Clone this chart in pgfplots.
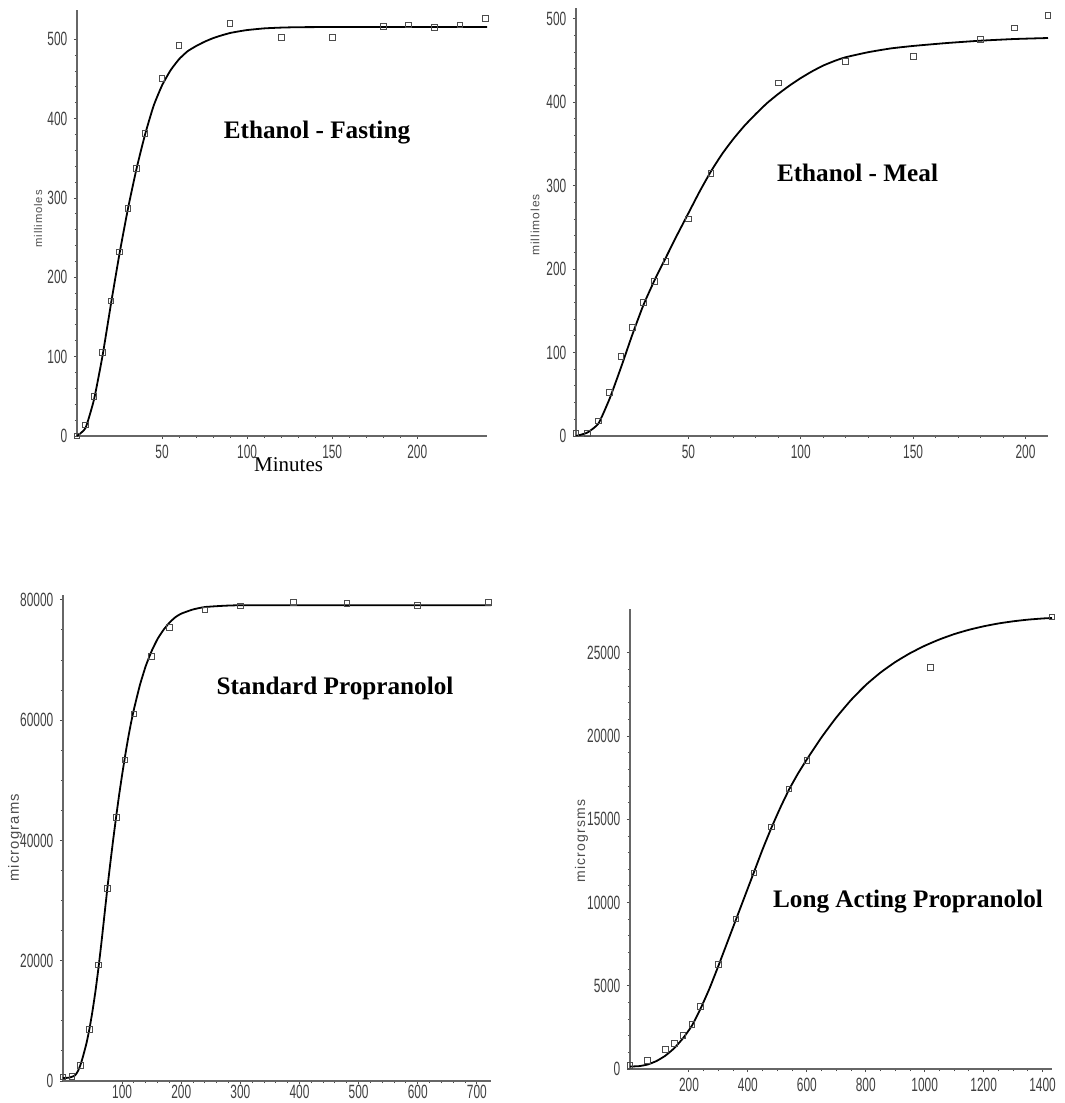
\documentclass[border=0pt]{standalone}
\usepackage{pgfplots}
\pgfplotsset{compat=1.18}
\usepackage{fontspec}
\setmainfont{Liberation Serif}
\newfontfamily\ticksans{Liberation Sans}[FakeStretch=0.62]
\newfontfamily\labsans{Liberation Sans}[LetterSpace=8]

\pgfplotsset{
  myax/.style={
    scale only axis,
    axis x line=bottom, axis y line=left,
    axis line style={-, draw=black!60, line width=0.75pt},
    tick align=outside,
    major tick length=1.6pt, minor tick length=1.1pt,
    every tick/.style={black!70, line width=0.45pt},
    tick label style={font=\ticksans\fontsize{9.6}{9.6}\selectfont, text=black!75},
    /pgf/number format/assume math mode=true,
    /pgf/number format/set thousands separator={},
    scaled ticks=false,
    xticklabel style={yshift=0.5pt},
    yticklabel style={xshift=0.3pt},
    clip=false,
    xmin=0, ymin=0,
  },
  fit/.style={black, line width=0.9pt, no marks, smooth, tension=0.3},
  obs/.style={only marks, mark=square, mark size=1.4pt, mark options={draw=black!70, line width=0.45pt, fill=none}},
}

\begin{document}
\begin{tikzpicture}
\path[use as bounding box] (0,0) rectangle (532.5pt,551.5pt);

% ---------- Panel 1: Ethanol - Fasting ----------
\begin{axis}[myax, at={(38.5pt,333.5pt)}, anchor=south west,
  width=205pt, height=213pt,
  xmax=241, ymax=537,
  xtick={50,100,150,200}, ytick={0,100,200,300,400,500},
  minor x tick num=4, minor y tick num=4]
\addplot[fit] coordinates {
(0,0) (5,10) (10,46) (15,101) (20,167) (25,230) (30,287) (35,337) (40,380)
(45,416) (50,442) (55,461) (60,475) (65,485) (70,491.5) (75,497) (80,501.5)
(85,505) (90,508) (95,510) (100,511.7) (110,513.8) (120,514.8) (130,515.3)
(150,515.5) (200,515.5) (241,515.5)};
\addplot[obs] coordinates {
(0,0) (5,14) (10,50) (15,105) (20,170) (25,232) (30,287) (35,337) (40,381)
(50,451) (60,492) (90,520) (120,502) (150,502) (180,516) (195,518) (210,515)
(225,518) (240,526)};
\end{axis}

% ---------- Panel 2: Ethanol - Meal ----------
\begin{axis}[myax, at={(288pt,333.5pt)}, anchor=south west,
  width=236pt, height=214pt,
  xmax=210, ymax=513,
  xtick={50,100,150,200}, ytick={0,100,200,300,400,500},
  minor x tick num=4, minor y tick num=4]
\addplot[fit] coordinates {
(0,0) (5,4) (10,15) (15,45) (20,82) (25,121) (30,157) (35,187) (40,214) (45,241)
(50,267) (55,293) (60,317) (65,338) (70,356) (75,372) (80,386) (85,399) (90,410)
(95,420) (100,429) (105,437) (110,444) (115,449.5) (120,454) (130,460)
(140,464.5) (150,467.5) (165,471) (180,473.8) (195,475.8) (210,477)};
\addplot[obs] coordinates {
(0,3) (5,3) (10,18) (15,52) (20,95) (25,130) (30,160) (35,185) (40,209)
(50,260) (60,315) (90,423) (120,449) (150,455) (180,475) (195,489) (210,504)};
\end{axis}

% ---------- Panel 3: Standard Propranolol ----------
\begin{axis}[myax, at={(31.5pt,11pt)}, anchor=south west,
  width=214pt, height=243pt,
  xmax=724, ymax=80800,
  xtick={100,200,300,400,500,600,700}, ytick={0,20000,40000,60000,80000},
  xticklabel style={yshift=2.4pt},
  minor x tick num=4, minor y tick num=3]
\addplot[fit] coordinates {
(0,500) (10,550) (20,900) (25,1600) (30,2800) (35,4500) (40,6400) (45,8800)
(50,11700) (55,15000) (60,18800) (65,23000) (70,27500) (75,32000) (80,36200)
(85,40200) (90,44000) (95,47600) (100,50900) (105,54000) (110,56900) (115,59500)
(120,61800) (130,65800) (140,69000) (150,71500) (160,73500) (170,75000)
(180,76200) (190,77100) (200,77700) (220,78400) (240,78800) (270,79000)
(300,79100) (400,79100) (724,79100)};
\addplot[obs] coordinates {
(0,700) (15,800) (30,2600) (45,8600) (60,19300) (75,32000) (90,43800) (105,53400)
(120,61000) (150,70600) (180,75400) (240,78300) (300,79000) (390,79600)
(480,79400) (600,79100) (720,79600)};
\end{axis}

% ---------- Panel 4: Long Acting Propranolol ----------
\begin{axis}[myax, at={(315pt,17pt)}, anchor=south west,
  width=211pt, height=230pt,
  xmax=1432, ymax=27640,
  xtick={200,400,600,800,1000,1200,1400}, ytick={0,5000,10000,15000,20000,25000},
  minor x tick num=3, minor y tick num=4]
\addplot[fit] coordinates {
(0,150) (30,170) (60,270) (90,480) (120,800) (150,1250) (180,1850) (210,2600)
(240,3650) (270,4850) (300,6200) (330,7600) (360,9000) (390,10400) (420,11800)
(450,13200) (480,14500) (510,15700) (540,16800) (570,17750) (600,18600)
(650,19930) (700,21120) (750,22170) (800,23070) (850,23820) (900,24450)
(950,24980) (1000,25430) (1050,25810) (1100,26130) (1150,26390) (1200,26600)
(1250,26770) (1300,26900) (1350,27000) (1400,27070) (1432,27100)};
\addplot[obs] coordinates {
(0,200) (60,500) (120,1160) (150,1520) (180,2020) (210,2660) (240,3770)
(300,6270) (360,9010) (420,11780) (480,14540) (540,16830) (600,18550)
(1020,24120) (1432,27160)};
\end{axis}

% ---------- Titles and labels ----------
\node[font=\fontsize{12.6}{12.6}\selectfont\bfseries] at (158.5pt,485pt) {Ethanol - Fasting};
\node[font=\fontsize{12.6}{12.6}\selectfont\bfseries] at (428.75pt,465pt) {Ethanol - Meal};
\node[font=\fontsize{12.6}{12.6}\selectfont\bfseries] at (167.5pt,207.5pt) {Standard Propranolol};
\node[font=\fontsize{12.6}{12.6}\selectfont\bfseries] at (454pt,100.5pt) {Long Acting Propranolol};
\node[font=\fontsize{10.5}{10.5}\selectfont] at (144.3pt,319pt) {Minutes};

\node[rotate=90, font=\labsans\fontsize{5.6}{5.6}\selectfont, text=black!70] at (19pt,442pt) {millimoles};
\node[rotate=90, font=\labsans\fontsize{6.0}{6.0}\selectfont, text=black!70] at (267.5pt,439pt) {millimoles};
\node[rotate=90, font=\labsans\fontsize{7.4}{7.4}\selectfont, text=black!70] at (7.5pt,132.5pt) {micrograms};
\node[rotate=90, font=\labsans\fontsize{7.0}{7.0}\selectfont, text=black!70] at (290.8pt,131pt) {microgrsms};
\end{tikzpicture}
\end{document}
